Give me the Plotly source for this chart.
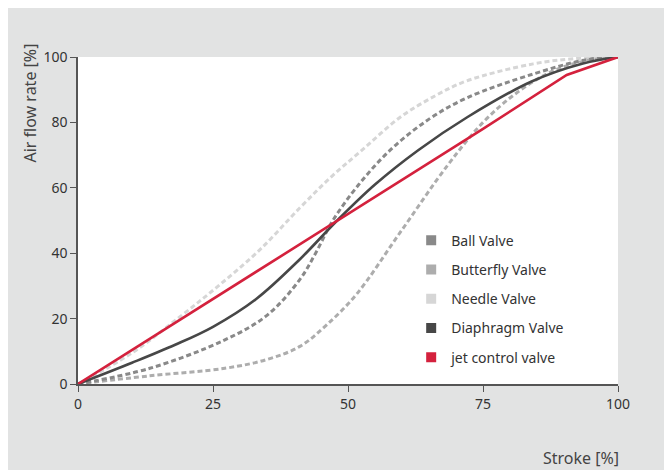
import plotly.graph_objects as go

# Stroke positions (%) and air flow rate (%) per valve type
ball_x = [0, 13.3, 27.2, 35, 41.1, 44, 47.2, 52, 57.8, 65, 72, 84.3, 94.2, 100]
ball_y = [0, 4.8, 13.5, 21, 32, 40, 50, 61, 71.5, 81, 87.5, 94.8, 99.2, 100]

butterfly_x = [0, 13.3, 27.2, 35, 41.1, 46, 51.6, 59.6, 68.5, 75, 81.2, 87.4, 93, 100]
butterfly_y = [0, 2.5, 4.8, 7.5, 11.5, 18, 27.5, 46.2, 67, 80, 89, 95.3, 98.5, 100]

needle_x = [0, 10, 18.9, 26, 33.7, 41.1, 47, 52.8, 59.6, 66, 72, 84.3, 92, 100]
needle_y = [0, 9.5, 20.6, 30, 41.1, 53.9, 63.5, 71.8, 81.5, 88, 92.7, 97.9, 99.5, 100]

diaphragm_x = [0, 10, 18, 25, 33, 41, 48, 55, 63, 72, 84, 93.5, 100]
diaphragm_y = [0, 6.5, 12, 17.5, 26, 38, 50, 61, 71.5, 81.5, 92.5, 98, 100]

jet_x = [0, 25, 48, 75, 90.5, 100]
jet_y = [0, 26, 50, 78, 94.5, 100]

names = ["Ball Valve", "Butterfly Valve", "Needle Valve", "Diaphragm Valve", "jet control valve"]
colors = ["#898989", "#adadad", "#d6d6d6", "#474747", "#d4213d"]

x_ticks = [0, 25, 50, 75, 100]
y_ticks = [0, 20, 40, 60, 80, 100]

fig = go.Figure()

curve_specs = [
    (needle_x, needle_y, 2, True),
    (butterfly_x, butterfly_y, 1, True),
    (ball_x, ball_y, 0, True),
    (diaphragm_x, diaphragm_y, 3, False),
]
for xs, ys, idx, dashed in curve_specs:
    fig.add_trace(go.Scatter(
        x=xs, y=ys, mode="lines",
        line=dict(color=colors[idx], width=3 if dashed else 2.6,
                  dash="5px,3px" if dashed else "solid",
                  shape="spline", smoothing=1.0),
        showlegend=False, hoverinfo="skip", cliponaxis=False))

fig.add_trace(go.Scatter(
    x=jet_x, y=jet_y, mode="lines",
    line=dict(color=colors[4], width=2.6),
    showlegend=False, hoverinfo="skip", cliponaxis=False))

for i, nm in enumerate(names):
    fig.add_trace(go.Scatter(
        x=[None], y=[None], mode="markers", name=nm,
        marker=dict(symbol="square", size=10, color=colors[i]),
        legendgroup=nm))

fig.update_layout(
    width=664, height=462,
    margin=dict(l=70, r=54, t=49, b=86),
    paper_bgcolor="#e2e3e3",
    plot_bgcolor="white",
    font=dict(family="Noto Sans, Open Sans, sans-serif", color="#333333", size=13),
    legend=dict(x=0.617, y=0.487, xanchor="left", yanchor="top",
                bgcolor="rgba(0,0,0,0)", tracegroupgap=8,
                font=dict(size=14, color="#333333")),
    annotations=[
        dict(text="Air flow rate [%]", xref="paper", yref="paper",
             x=(29 - 78) / 540, y=(384 - 42) / 327, xanchor="center", yanchor="top",
             textangle=-90, showarrow=False,
             font=dict(size=16, color="#444444")),
        dict(text="Stroke [%]", xref="paper", yref="paper",
             x=(621 - 78) / 540, y=(384 - 458) / 327, xanchor="right", yanchor="middle",
             showarrow=False, font=dict(size=16, color="#444444")),
    ],
)

fig.update_xaxes(range=[0, 100], tickvals=x_ticks, showgrid=False, zeroline=False,
                 showline=True, linecolor="#555555", linewidth=1.5,
                 ticks="outside", ticklen=6, tickcolor="#555555", tickwidth=1.3,
                 tickfont=dict(size=14, color="#333333"))
fig.update_yaxes(range=[0, 100], tickvals=y_ticks, showgrid=False, zeroline=False,
                 showline=True, linecolor="#555555", linewidth=1.5,
                 ticks="outside", ticklen=6, tickcolor="#555555", tickwidth=1.3,
                 tickfont=dict(size=14, color="#333333"))

fig.write_html("out.html")
